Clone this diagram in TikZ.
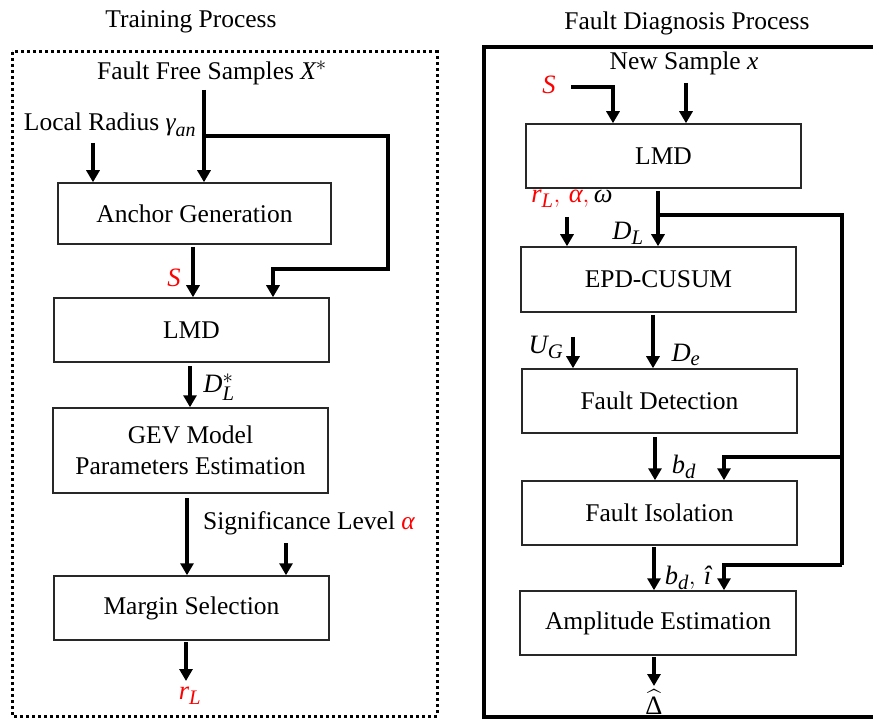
\documentclass[tikz,border=0pt]{standalone}
\usepackage{fontspec}
\setmainfont{Liberation Serif}
\usepackage{amsmath}
\usetikzlibrary{arrows.meta}
\renewcommand{\defaultscriptratio}{.78}
\renewcommand{\defaultscriptscriptratio}{.6}
\definecolor{labred}{RGB}{255,0,0}
\definecolor{boxline}{RGB}{40,40,40}
\newcommand{\gk}[1]{\text{\itshape #1}}
\newcommand{\mv}[1]{\mathit{#1}}
\tikzset{
  txt/.style={font=\fontsize{25.5}{31}\selectfont, inner sep=0pt},
  lab/.style={font=\fontsize{26.5}{31}\selectfont, inner sep=0pt},
  procbox/.style={draw=boxline, line width=1.5pt, inner sep=0pt, minimum height=64pt, minimum width=275pt,
                  font=\fontsize{25.5}{31}\selectfont, align=center},
  arr/.style={line width=4pt, -{Triangle[width=13pt,length=12pt]}},
  thk/.style={line width=4pt},
}
\begin{document}
\begin{tikzpicture}[x=1pt,y=-1pt]
\useasboundingbox (0,0) rectangle (873,719);
% frames
\draw[line width=3pt, dash pattern=on 3pt off 3pt] (12,52) rectangle (437,716);
\draw[line width=4pt] (890,47) -- (484,47) -- (484,717) -- (890,717);

% ---------------- left: training process
\node[txt] (ttl1) at (191,22) {Training Process};
\node[txt] (ffs) at (212,73) {Fault Free Samples $\mv{X}^{*}$};
\node[txt] (lr) at (110,125) {Local Radius $\gk{γ}_{\mv{an}}$};

\node[procbox, minimum width=273pt, minimum height=61pt] (ag) at (194.5,213.5) {Anchor Generation};
\node[procbox] (lmd1) at (191.5,330) {LMD};
\node[procbox, minimum height=85pt] (gev) at (190.5,450.5) {GEV Model\\Parameters Estimation};
\node[procbox] (ms) at (191.5,608) {Margin Selection};

\node[lab, text=labred] (s1) at (174,278) {$\mv{S}$};
\node[lab] (dls) at (219,387) {$\mv{D}_{\mv{L}}^{*}$};
\node[txt] (sig) at (309,523) {Significance Level {\color{labred}$\gk{α}$}};
\node[lab, text=labred] (rl1) at (190,696) {$\mv{r}_{\mv{L}}$};

\coordinate (c1) at (204,90);
\coordinate (c2) at (204,136);
\coordinate (c3) at (93,143);
\coordinate (c4) at (193,247);
\coordinate (c5) at (190,366);
\coordinate (c6) at (187,498);
\coordinate (c7) at (286,543);
\coordinate (c8) at (186,642);
\coordinate (c9) at (186,681);

\draw[arr] (c1) -- (c1 |- ag.north);
\draw[arr] (c2) -- (388,136) -- (388,269) -- (273,269) -- (273,0 |- lmd1.north);
\draw[arr] (c3) -- (c3 |- ag.north);
\draw[arr] (c4) -- (c4 |- lmd1.north);
\draw[arr] (c5) -- (c5 |- gev.north);
\draw[arr] (c6) -- (c6 |- ms.north);
\draw[arr] (c7) -- (c7 |- ms.north);
\draw[arr] (c8) -- (c9);

% ---------------- right: fault diagnosis process
\node[txt] (ttl2) at (687,23) {Fault Diagnosis Process};
\node[txt] (ns) at (684,63) {New Sample $\mv{x}$};
\node[lab, text=labred] (s2) at (549,85) {$\mv{S}$};

\node[procbox] (lmd2) at (663.5,156) {LMD};
\node[procbox, minimum height=65pt] (epd) at (658.5,279.5) {EPD-CUSUM};
\node[procbox] (fd) at (659.5,401) {Fault Detection};
\node[procbox] (fi) at (659.5,513) {Fault Isolation};
\node[procbox, minimum width=276pt] (ae) at (658,623) {Amplitude Estimation};

\node[lab] (rao) at (572,199) {{\color{labred}$\mv{r}_{\mv{L}},\,\gk{α},$}\,$\gk{ω}$};
\node[lab] (dl) at (628,233) {$\mv{D}_{\mv{L}}$};
\node[lab] (ug) at (546,347) {$\mv{U}_{\mv{G}}$};
\node[lab] (de) at (686,355) {$\mv{D}_{\mv{e}}$};
\node[lab] (bd) at (684,467) {$\mv{b}_{\mv{d}}$};
\node[lab] (bdi) at (688,578) {$\mv{b}_{\mv{d}},\,\gk{\^{\i}}$};
\node[lab] (dh) at (654,702) {$\widehat{\text{Δ}}$};

\coordinate (d1) at (571,87);
\coordinate (d2) at (686,83);
\coordinate (d3) at (567,217);
\coordinate (d4) at (658,191);
\coordinate (d5) at (653,315);
\coordinate (d6) at (573,337);
\coordinate (d7) at (655,437);
\coordinate (d8) at (654,547);
\coordinate (d9) at (654,657);
\coordinate (d10) at (654,686);
\coordinate (br) at (842,457);

\draw[arr] (d1) -- (613,87) -- (613,0 |- lmd2.north);
\draw[arr] (d2) -- (d2 |- lmd2.north);
\draw[arr] (d3) -- (d3 |- epd.north);
\draw[arr] (d4) -- (d4 |- epd.north);
\draw[thk] (658,215) -- (842,215) -- (842,565);
\draw[arr] (br) -- (724,457) -- (724,0 |- fi.north);
\draw[arr] (842,565) -- (724,565) -- (724,0 |- ae.north);
\draw[arr] (d5) -- (d5 |- fd.north);
\draw[arr] (d6) -- (d6 |- fd.north);
\draw[arr] (d7) -- (d7 |- fi.north);
\draw[arr] (d8) -- (d8 |- ae.north);
\draw[arr] (d9) -- (d10);
\end{tikzpicture}
\end{document}
